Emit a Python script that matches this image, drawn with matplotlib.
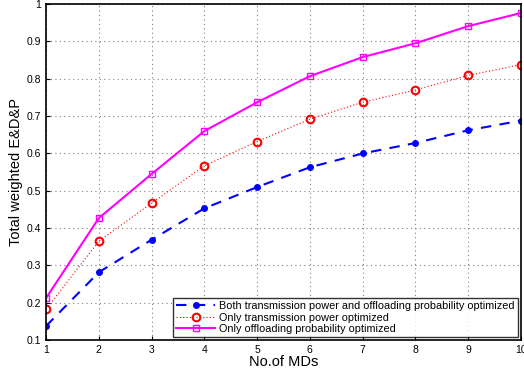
import numpy as np
import matplotlib.pyplot as plt

plt.rcParams['font.family'] = ['Liberation Sans', 'DejaVu Sans']

# number of mobile devices
mds = [1, 2, 3, 4, 5, 6, 7, 8, 9, 10]

# total weighted E&D&P for each scheme
both_opt = [0.138, 0.282, 0.369, 0.453, 0.510, 0.563, 0.600, 0.628, 0.662, 0.688]
power_opt = [0.183, 0.365, 0.467, 0.567, 0.632, 0.692, 0.737, 0.770, 0.809, 0.838]
offload_opt = [0.213, 0.427, 0.545, 0.660, 0.737, 0.807, 0.858, 0.895, 0.941, 0.976]

fig = plt.figure(figsize=(5.24, 3.73), dpi=100)
ax = fig.add_axes([0.088, 0.088, 0.906, 0.901])

ax.plot(mds, both_opt, color='blue', linestyle=(0, (5, 4)), linewidth=1.5,
        marker='o', markersize=4, label='Both transmission power and offloading probability optimized')
ax.plot(mds, power_opt, color='red', linestyle=(0, (1, 2)), linewidth=0.8,
        marker='o', markersize=5.5, markerfacecolor='none', markeredgewidth=1.5,
        label='Only transmission power optimized')
ax.plot(mds, offload_opt, color='magenta', linestyle='-', linewidth=1.5,
        marker='s', markersize=5, markerfacecolor='none', markeredgewidth=1.0,
        label='Only offloading probability optimized')

ax.set_xlim(1, 10)
ax.set_ylim(0.1, 1.0)
ax.set_xticks(mds)
ax.set_yticks(np.arange(0.1, 1.01, 0.1))
ax.set_yticklabels(['0.1', '0.2', '0.3', '0.4', '0.5', '0.6', '0.7', '0.8', '0.9', '1'])
ax.tick_params(labelsize=7.5, direction='in', length=3)
ax.grid(True, linestyle=(0, (1, 3)), color='gray', linewidth=0.8)
for s in ax.spines.values():
    s.set_linewidth(1.2)

ax.set_xlabel('No.of MDs', fontsize=10.5, labelpad=0)
ax.set_ylabel('Total weighted E&D&P', fontsize=10.5, labelpad=3)

leg = ax.legend(loc='lower right', fontsize=7.8, frameon=True, fancybox=False,
                edgecolor='black', borderpad=0.25, labelspacing=0.15,
                handlelength=3.6, handletextpad=0.4, borderaxespad=0.3)
leg.get_frame().set_linewidth(1.0)

fig.savefig('out.png', dpi=100)
